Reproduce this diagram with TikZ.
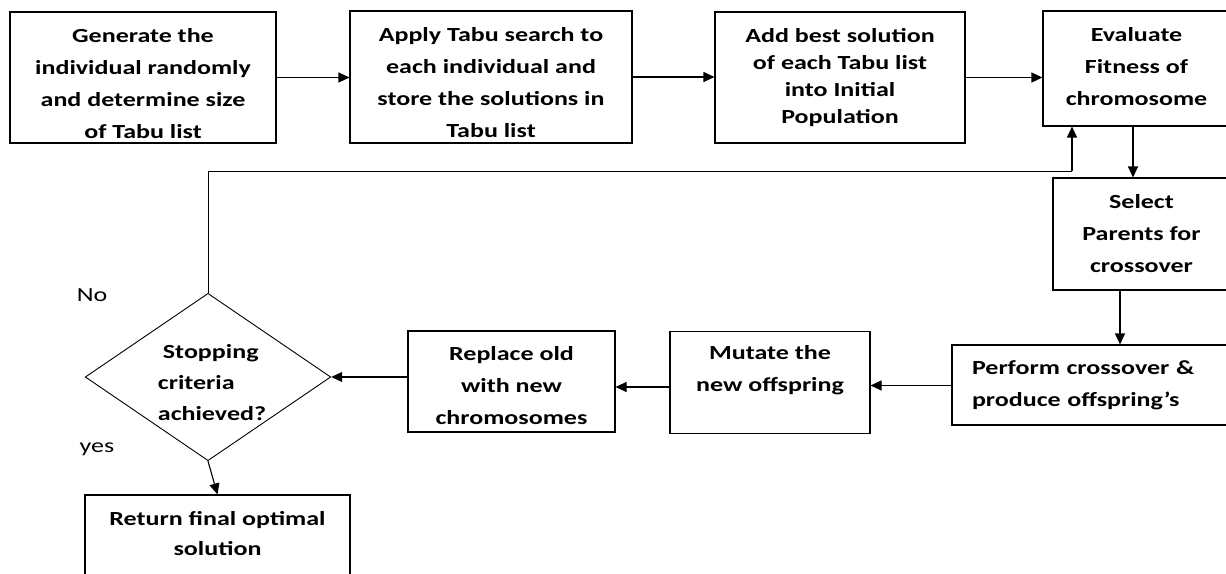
\documentclass[tikz,border=0pt]{standalone}
\usepackage{fontspec}
\setmainfont{Carlito}[FakeStretch=1.3]
\usetikzlibrary{arrows.meta,shapes.geometric}
\newcommand\dnby[1]{\vrule width0pt height\dimexpr\fontcharht\font`h+#1\relax}
\newcommand\upby[1]{\vrule width0pt depth #1\relax}
\begin{document}
\begin{tikzpicture}[x=1pt,y=-1pt,
  box/.style={draw, line width=1.1pt, rectangle, inner sep=0pt, align=center,
    font=\bfseries\fontsize{20}{32}\selectfont},
  dia/.style={draw, line width=0.9pt, diamond, aspect=1.467, inner sep=0pt, align=left,
    font=\bfseries\fontsize{20}{31}\selectfont},
  lbl/.style={inner sep=0pt, font=\fontsize{20}{24}\selectfont},
  arr/.style={line width=1.1pt, -{Triangle[length=11pt,width=10pt]}},
  ln/.style={line width=0.9pt}]
\useasboundingbox (0,0) rectangle (1226,573);
\clip (0,0) rectangle (1226,573);
\node[box, minimum width=266, minimum height=131] (b1) at (143,77.5)
  {\dnby{12pt}Generate the\\individual randomly\\and determine size\\of Tabu list};
\node[box, minimum width=282, minimum height=132] (b2) at (491,77)
  {\dnby{12pt}Apply Tabu search to\\each individual and\\store the solutions in\\Tabu list};
\node[box, minimum width=250, minimum height=131, font=\bfseries\fontsize{20}{27}\selectfont] (b3) at (840,77.5)
  {Add best solution\\of each Tabu list\\into Initial\\Population};
\node[box, minimum width=187, minimum height=115] (b4) at (1136.5,68.5)
  {Evaluate\\Fitness of\\chromosome\upby{4pt}};
\node[box, minimum width=177, minimum height=112] (b5) at (1141.5,234)
  {Select\\Parents for\\crossover};
\node[box, minimum width=278, minimum height=80, text width=238, align=left] (b6) at (1091,385)
  {Perform crossover \&\\produce offspring’s};
\node[box, minimum width=200, minimum height=99] (b7) at (770,382.5)
  {\dnby{14pt}Mutate the\\new offspring\\\strut};
\node[box, minimum width=207, minimum height=101] (b8) at (511.5,381.5)
  {\dnby{8pt}Replace old\\with new\\chromosomes};
\node[dia, minimum width=245, minimum height=167] (d) at (208,377)
  {\dnby{12pt}\hspace*{13pt}Stopping\\\hspace*{8pt}criteria\\\hspace*{8pt}achieved?};
\node[box, minimum width=265, minimum height=83, font=\bfseries\fontsize{20}{30}\selectfont] (b9) at (217.5,536.5)
  {Return final optimal\\solution\upby{6pt}};
\node[lbl] (no) at (92,295) {No};
\node[lbl] (yes) at (97,449) {yes};
\coordinate (p45) at (1133,0);
\coordinate (p56) at (1120,0);
\coordinate (r67) at (0,385.5);
\coordinate (r78) at (0,387);
\coordinate (fb) at (1072,171);
\draw[arr] (b1.east) -- (b1.east -| b2.west);
\draw[arr] (b2.east) -- (b2.east -| b3.west);
\draw[arr] (b3.east) -- (b3.east -| b4.west);
\draw[arr] (p45 |- b4.south) -- (p45 |- b5.north);
\draw[arr] (p56 |- b5.south) -- (p56 |- b6.north);
\draw[arr] (b6.west |- r67) -- (b7.east |- r67);
\draw[arr] (b7.west |- r78) -- (b8.east |- r78);
\draw[arr] (b8.west |- d.east) -- (d.east);
\draw[arr] (d.south) -- (b9.north);
\draw[ln] (d.north) |- (fb);
\draw[arr] (fb) -- (fb |- b4.south);
\end{tikzpicture}
\end{document}
